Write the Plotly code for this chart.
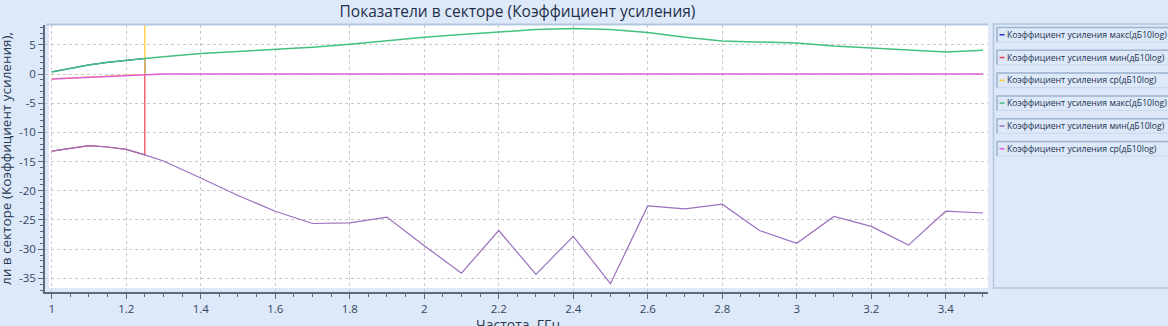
import plotly.graph_objects as go

# ---------------- data ----------------
freq = [1.0, 1.05, 1.1, 1.15, 1.2, 1.25, 1.3, 1.4, 1.5, 1.6, 1.7, 1.8, 1.9, 2.0,
        2.1, 2.2, 2.3, 2.4, 2.5, 2.6, 2.7, 2.8, 2.9, 3.0, 3.1, 3.2, 3.3, 3.4, 3.5]
gain_max_2 = [0.35, 0.95, 1.55, 2.0, 2.37, 2.66, 2.95, 3.5, 3.85, 4.18, 4.6, 5.08, 5.7, 6.3,
              6.75, 7.17, 7.6, 7.8, 7.6, 7.1, 6.3, 5.64, 5.5, 5.3, 4.8, 4.45, 4.0, 3.75, 4.05]
gain_min_2 = [-13.2, -12.7, -12.25, -12.5, -12.9, -13.85, -14.9, -17.8, -20.8, -23.5, -25.6,
              -25.5, -24.5, -29.4, -34.1, -26.8, -34.3, -27.8, -35.9, -22.6, -23.1, -22.3,
              -26.8, -29.0, -24.4, -26.1, -29.3, -23.5, -23.8]
gain_avg_2 = [-0.85, -0.7, -0.5, -0.35, -0.2, -0.05, 0.0, 0.0, 0.0, 0.0, -0.08, -0.08, -0.08,
              -0.08, -0.08, -0.08, -0.08, -0.08, -0.08, -0.08, 0.0, 0.0, 0.0, 0.0, 0.0, 0.0,
              0.0, 0.0, 0.0]

freq_1 = [1.0, 1.05, 1.1, 1.15, 1.2, 1.25, 1.25]
gain_max_1 = [0.35, 0.95, 1.55, 2.0, 2.37, 2.66, 0.0]
gain_min_1 = [-13.2, -12.7, -12.25, -12.5, -12.9, -13.85, 0.0]
gain_avg_1 = [-0.85, -0.7, -0.5, -0.35, -0.2, -0.05, 10.0]

series_names = [
    "Коэффициент усиления макс(дБ10log)",
    "Коэффициент усиления мин(дБ10log)",
    "Коэффициент усиления ср(дБ10log)",
    "Коэффициент усиления макс(дБ10log)",
    "Коэффициент усиления мин(дБ10log)",
    "Коэффициент усиления ср(дБ10log)",
]
series_colors = ["#2a2ad0", "#e8414a", "#ffc828", "#44c181", "#9a6fc0", "#de5fd8"]
series_widths = [1.2, 1.2, 1.2, 1.5, 1.2, 1.6]

title_text = "Показатели в секторе (Коэффициент усиления)"
y_title_text = "ли в секторе (Коэффициент усиления),"
x_title_text = "Частота, ГГц"
x_ticks = [1, 1.2, 1.4, 1.6, 1.8, 2, 2.2, 2.4, 2.6, 2.8, 3, 3.2, 3.4]
y_ticks = [5, 0, -5, -10, -15, -20, -25, -30, -35]

# ---------------- layout geometry (pixels) ----------------
FW, FH = 1168, 326
L, R, T, B = 45, 988, 25, 292
W, H = R - L, B - T


def px(p):
    return (p - L) / W


def py(p):
    return (B - p) / H


BG = "#dde9f9"
TXT = "#34455f"
FONT = "Open Sans"

fig = go.Figure()
xs = [freq_1, freq_1, freq_1, freq, freq, freq]
ys = [gain_max_1, gain_min_1, gain_avg_1, gain_max_2, gain_min_2, gain_avg_2]
for i in range(6):
    fig.add_trace(go.Scatter(x=xs[i], y=ys[i], mode="lines", name=series_names[i],
                             line=dict(color=series_colors[i], width=series_widths[i]),
                             showlegend=False))

shapes = []
# white plot background (slightly inset from axis lines)
shapes.append(dict(type="rect", xref="paper", yref="paper", x0=px(49), x1=px(R), y0=py(288), y1=py(T),
                   fillcolor="white", line=dict(width=0), layer="below"))
# top border of plot
shapes.append(dict(type="line", xref="paper", yref="paper", x0=px(46), x1=px(R), y0=py(24.5), y1=py(24.5),
                   line=dict(color="#b3c6df", width=2), layer="above"))
# legend panel
shapes.append(dict(type="rect", xref="paper", yref="paper", x0=px(993.5), x1=px(1180), y0=py(288), y1=py(24),
                   fillcolor=BG, line=dict(color="#b3c6df", width=1.5), layer="above"))

annotations = []
for i, (nm, col) in enumerate(zip(series_names, series_colors)):
    top = 27.5 + 22.8 * i
    bot = top + 14.5
    shapes.append(dict(type="rect", xref="paper", yref="paper", x0=px(997), x1=px(1180), y0=py(bot), y1=py(top),
                       fillcolor=BG, line=dict(color="#c9d7ea", width=1), layer="above"))
    shapes.append(dict(type="path", xref="paper", yref="paper",
                       path=f"M {px(997)} {py(bot)} L {px(997)} {py(top)} L {px(1180)} {py(top)}",
                       line=dict(color="#9fb4cf", width=1.5), layer="above"))
    cy = (top + bot) / 2
    shapes.append(dict(type="line", xref="paper", yref="paper", x0=px(999.5), x1=px(1004.5), y0=py(cy), y1=py(cy),
                       line=dict(color=col, width=1.5), layer="above"))
    annotations.append(dict(text=nm, xref="paper", yref="paper", x=px(1005), y=py(cy),
                            xanchor="left", yanchor="middle", showarrow=False,
                            font=dict(family=FONT, size=8.7, color="#22334f")))

annotations.append(dict(text=y_title_text, xref="paper", yref="paper", x=px(6), y=py(159),
                        xanchor="center", yanchor="middle", textangle=-90, showarrow=False,
                        font=dict(family=FONT, size=13.5, color="#2a3a55")))
annotations.append(dict(text=x_title_text, xref="paper", yref="paper", x=px(518), y=py(313),
                        xanchor="center", yanchor="top", showarrow=False,
                        font=dict(family=FONT, size=14, color="#2a3a55")))

fig.update_layout(
    width=FW, height=FH,
    margin=dict(l=L, r=FW - R, t=T, b=FH - B, autoexpand=False),
    paper_bgcolor=BG, plot_bgcolor=BG,
    title=dict(text=title_text, x=px(517.5), xref="paper", xanchor="center",
               y=1 - 12 / FH, yref="container", yanchor="middle",
               font=dict(family=FONT, size=15.5, color="#1f2f4a")),
    shapes=shapes, annotations=annotations,
    showlegend=False,
    xaxis=dict(range=[0.982, 3.5135], tickvals=x_ticks, ticktext=[f"{v:g}" for v in x_ticks],
               showgrid=True, gridcolor="#c9c9c9", griddash="dot", gridwidth=1,
               zeroline=False, showline=True, linecolor="#5c6a7e", linewidth=1.5,
               ticks="outside", ticklen=5, tickcolor="#5c6a7e", tickwidth=1.2,
               minor=dict(dtick=0.05, tick0=1, ticks="outside", ticklen=3, tickcolor="#5c6a7e", showgrid=False),
               tickfont=dict(family=FONT, size=11.5, color=TXT), fixedrange=True),
    yaxis=dict(range=[-37.33, 8.39], tickvals=y_ticks, ticktext=[f"{v:g}" for v in y_ticks],
               showgrid=True, gridcolor="#c9c9c9", griddash="dot", gridwidth=1,
               zeroline=False, showline=True, linecolor="#5c6a7e", linewidth=1.5,
               ticks="outside", ticklen=5, tickcolor="#5c6a7e", tickwidth=1.2,
               minor=dict(dtick=1, tick0=0, ticks="outside", ticklen=3, tickcolor="#5c6a7e", showgrid=False),
               tickfont=dict(family=FONT, size=11.5, color=TXT), fixedrange=True),
)

fig.write_html("out.html")
